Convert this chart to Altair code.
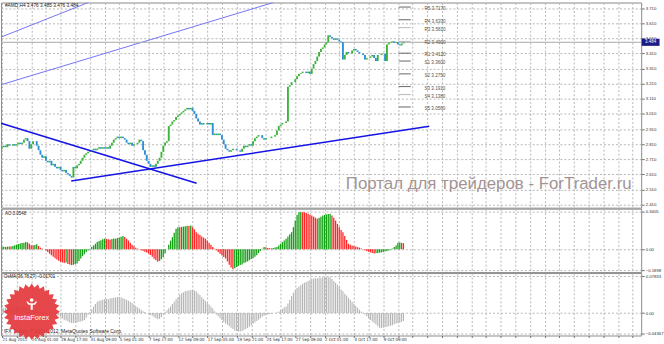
import json
import altair as alt
import numpy as np
import pandas as pd

# ---------------- data ----------------
closes = [
    2.79, 2.80, 2.79, 2.81, 2.80, 2.80, 2.81, 2.80, 2.81, 2.82,
    2.81, 2.82, 2.84, 2.85, 2.83, 2.78, 2.81, 2.83, 2.83, 2.80,
    2.77, 2.74, 2.72, 2.73, 2.70, 2.69, 2.70, 2.67, 2.68, 2.66,
    2.65, 2.66, 2.64, 2.63, 2.64, 2.62, 2.61, 2.60, 2.59, 2.66,
    2.65, 2.67, 2.68, 2.70, 2.72, 2.74, 2.75, 2.76, 2.77, 2.77,
    2.78, 2.77, 2.78, 2.79, 2.78, 2.79, 2.78, 2.79, 2.78, 2.80,
    2.82, 2.84, 2.85, 2.86, 2.85, 2.86, 2.85, 2.84, 2.82, 2.81,
    2.82, 2.80, 2.81, 2.81, 2.82, 2.84, 2.83, 2.77, 2.74, 2.70,
    2.68, 2.66, 2.67, 2.66, 2.68, 2.70, 2.72, 2.76, 2.80, 2.82,
    2.83, 2.93, 2.94, 2.96, 2.97, 2.99, 3.00, 3.01, 3.02, 3.03,
    3.04, 3.05, 3.04, 3.05, 3.03, 3.01, 2.98, 2.96, 2.94, 2.95,
    2.94, 2.94, 2.95, 2.94, 2.95, 2.87, 2.88, 2.87, 2.88, 2.87,
    2.84, 2.81, 2.78, 2.77, 2.76, 2.77, 2.78, 2.78, 2.77, 2.77,
    2.76, 2.78, 2.80, 2.79, 2.80, 2.81, 2.80, 2.83, 2.85, 2.86,
    2.87, 2.87, 2.85, 2.84, 2.85, 2.85, 2.85, 2.86, 2.86, 2.87,
    2.90, 2.93, 2.94, 2.95, 2.95, 2.96, 3.19, 3.20, 3.22, 3.22,
    3.24, 3.26, 3.275, 3.28, 3.29, 3.29, 3.28, 3.29, 3.275, 3.31,
    3.34, 3.36, 3.39, 3.42, 3.44, 3.45, 3.47, 3.485, 3.53, 3.52,
    3.51, 3.50, 3.51, 3.50, 3.49, 3.485, 3.37, 3.40, 3.42, 3.41,
    3.41, 3.43, 3.44, 3.43, 3.42, 3.41, 3.41, 3.40, 3.37, 3.38,
    3.38, 3.39, 3.40, 3.38, 3.36, 3.40, 3.40, 3.41, 3.41, 3.36,
    3.47, 3.48, 3.485, 3.49, 3.48, 3.485, 3.47, 3.463, 3.476, 3.484,
]

ao_values = [
    0.020, 0.022, 0.021, 0.024, 0.026, 0.025, 0.030, 0.036, 0.042, 0.048,
    0.052, 0.056, 0.060, 0.066, 0.062, 0.050, 0.036, 0.034, 0.038, 0.045,
    0.030, 0.015, 0.005, 0.000, -0.012, -0.025, -0.040, -0.054, -0.068, -0.080,
    -0.092, -0.104, -0.113, -0.118, -0.125, -0.120, -0.132, -0.138, -0.143, -0.140,
    -0.135, -0.128, -0.105, -0.084, -0.062, -0.045, -0.024, -0.010, 0.005, 0.020,
    0.035, 0.050, 0.066, 0.075, 0.082, 0.090, 0.096, 0.094, 0.090, 0.087,
    0.092, 0.098, 0.096, 0.102, 0.105, 0.113, 0.120, 0.110, 0.095, 0.080,
    0.060, 0.042, 0.027, 0.015, 0.006, -0.002, -0.009, -0.015, -0.022, -0.030,
    -0.039, -0.052, -0.068, -0.085, -0.100, -0.113, -0.105, -0.090, -0.069, -0.035,
    0.000, 0.040, 0.078, 0.110, 0.150, 0.185, 0.200, 0.198, 0.202, 0.205,
    0.208, 0.212, 0.210, 0.215, 0.200, 0.180, 0.155, 0.140, 0.128, 0.115,
    0.105, 0.096, 0.080, 0.060, 0.040, 0.020, 0.005, -0.009, -0.025, -0.040,
    -0.055, -0.070, -0.084, -0.110, -0.140, -0.165, -0.180, -0.172, -0.160, -0.150,
    -0.143, -0.138, -0.125, -0.118, -0.110, -0.099, -0.088, -0.080, -0.068, -0.054,
    -0.035, -0.015, 0.005, 0.020, 0.018, 0.012, 0.010, 0.008, 0.012, 0.016,
    0.020, 0.035, 0.050, 0.065, 0.080, 0.096, 0.115, 0.135, 0.155, 0.200,
    0.260, 0.310, 0.334, 0.336, 0.335, 0.334, 0.328, 0.320, 0.312, 0.305,
    0.295, 0.285, 0.275, 0.285, 0.295, 0.305, 0.310, 0.315, 0.318, 0.320,
    0.305, 0.285, 0.260, 0.230, 0.200, 0.175, 0.155, 0.120, 0.085, 0.050,
    0.040, 0.035, 0.030, 0.025, 0.020, 0.015, 0.008, 0.000, -0.008, -0.015,
    -0.022, -0.028, -0.034, -0.039, -0.036, -0.034, -0.031, -0.028, -0.024, -0.020,
    -0.015, -0.010, -0.004, 0.006, 0.020, 0.035, 0.060, 0.062, 0.058, 0.0548,
]

osma_values = [
    0.010, 0.010, 0.011, 0.011, 0.012, 0.012, 0.012, 0.013, 0.013, 0.013,
    0.012, 0.012, 0.012, 0.012, 0.011, 0.010, 0.009, 0.008, 0.007, 0.006,
    0.004, 0.003, 0.002, 0.001, 0.000, -0.001, -0.002, -0.002, -0.003, -0.004,
    -0.005, -0.005, -0.008, -0.011, -0.014, -0.016, -0.018, -0.020, -0.021, -0.021,
    -0.021, -0.020, -0.019, -0.018, -0.017, -0.015, -0.010, -0.004, 0.002, 0.008,
    0.014, 0.019, 0.024, 0.026, 0.027, 0.028, 0.029, 0.030, 0.030, 0.031,
    0.032, 0.033, 0.033, 0.034, 0.034, 0.033, 0.032, 0.030, 0.028, 0.026,
    0.024, 0.021, 0.018, 0.015, 0.012, 0.009, 0.007, 0.004, 0.002, 0.000,
    -0.002, -0.004, -0.006, -0.009, -0.011, -0.013, -0.012, -0.009, -0.004, 0.001,
    0.006, 0.010, 0.014, 0.019, 0.024, 0.029, 0.034, 0.039, 0.042, 0.044,
    0.046, 0.047, 0.048, 0.049, 0.049, 0.048, 0.046, 0.042, 0.038, 0.034,
    0.030, 0.026, 0.022, 0.018, 0.014, 0.010, 0.004, -0.003, -0.007, -0.011,
    -0.015, -0.019, -0.022, -0.025, -0.028, -0.031, -0.034, -0.037, -0.038, -0.039,
    -0.039, -0.038, -0.036, -0.034, -0.032, -0.029, -0.026, -0.023, -0.020, -0.017,
    -0.014, -0.011, -0.008, -0.006, -0.004, -0.003, -0.002, -0.001, 0.000, 0.000,
    0.001, 0.003, 0.006, 0.009, 0.012, 0.014, 0.020, 0.028, 0.036, 0.043,
    0.049, 0.053, 0.056, 0.059, 0.062, 0.064, 0.066, 0.068, 0.070, 0.072,
    0.073, 0.074, 0.074, 0.075, 0.075, 0.076, 0.076, 0.076, 0.076, 0.076,
    0.072, 0.068, 0.064, 0.060, 0.055, 0.050, 0.046, 0.041, 0.037, 0.032,
    0.028, 0.024, 0.019, 0.015, 0.011, 0.007, 0.003, 0.000, -0.003, -0.007,
    -0.011, -0.015, -0.018, -0.021, -0.024, -0.028, -0.031, -0.032, -0.031, -0.030,
    -0.029, -0.028, -0.027, -0.026, -0.024, -0.022, -0.021, -0.020, -0.019, -0.017,
]

time_labels = [
    "21 Aug 2012", "24 Aug 01:00", "28 Aug 17:00", "31 Aug 09:00", "5 Sep 01:00",
    "7 Sep 17:00", "12 Sep 09:00", "17 Sep 05:00", "19 Sep 21:00", "24 Sep 17:00",
    "27 Sep 09:00", "2 Oct 01:00", "4 Oct 17:00", "9 Oct 09:00",
]
price_ticks = [2.41, 2.51, 2.61, 2.71, 2.81, 2.91, 3.01, 3.11, 3.21, 3.31,
               3.41, 3.51, 3.61, 3.71]
ao_ticks = [0.3405, 0.0, -0.1898]
osma_ticks = [0.07833, 0.0, -0.04367]

pivot_names = ["R5", "R4", "R3", "R2", "R1", "S1", "S2", "S3", "S4", "S5"]
pivot_values = [3.7170, 3.6330, 3.5810, 3.4900, 3.4120, 3.3600, 3.2750,
                3.1910, 3.1380, 3.0560]
pivot_tone = ["dark", "dark", "light", "light", "dark", "dark", "dark",
              "dark", "light", "dark"]

channel_ids = ["c1", "c1", "c2", "c2"]
channel_bar = [-0.5, 47.1, -0.5, 148.1]
channel_price = [3.518, 3.747, 3.203, 3.747]

trend_ids = ["down", "down", "up", "up"]
trend_bar = [-0.5, 106.2, 37.8, 233.1]
trend_price = [2.949, 2.552, 2.567, 2.928]

title_text = "#AMD,H4  3.476 3.485 3.476 3.484"
ao_text = "AO 0.0548"
osma_text = "OsMA(36,78,27) -0.01701"
copyright_text = "IFX Trader, © 2001-2012, MetaQuotes Software Corp."
watermark_text = "Портал для трейдеров - ForTrader.ru"
logo_text = "InstaForex"

# ---------------- tables ----------------
n = len(closes)
opens = [closes[0] - 0.01] + closes[:-1]
bars = pd.DataFrame({"i": list(range(n)), "open": opens, "close": closes,
                     "ao": ao_values, "osma": osma_values, "zero": 0.0})
bars["ao_up"] = [1] + [1 if ao_values[k] > ao_values[k - 1] else 0 for k in range(1, n)]

pivots = pd.DataFrame({"name": pivot_names, "value": pivot_values, "tone": pivot_tone})
pivots["x0"] = n - 3.5
pivots["x1"] = n + 3.0
pivots["lx"] = n + 10.5
pivots["label"] = [f"{a} {b:.4f}" for a, b in zip(pivot_names, pivot_values)]

channels = pd.DataFrame({"id": channel_ids, "bar": channel_bar, "price": channel_price})
trends = pd.DataFrame({"id": trend_ids, "bar": trend_bar, "price": trend_price})
last = pd.DataFrame({"price": [closes[-1]], "t": [f"{closes[-1]:.3f}"]})

# ---------------- styling ----------------
FONT = "Liberation Sans"
NARROW = "Liberation Sans Narrow, DejaVu Sans Condensed, Liberation Sans"
GRID = "#b6b6b6"
UP, DOWN = "#3cb43c", "#2d8fd6"
W = 646
X_DOM = [-0.5, W / 1.85 - 0.5]
grid_vals = list(range(0, 349, 8))


def xs():
    return alt.Scale(domain=X_DOM, nice=False, zero=False)


def x_grid_axis():
    return alt.Axis(values=grid_vals, labels=False, ticks=False, domain=False,
                    grid=True, gridDash=[2, 2], gridColor=GRID, gridOpacity=1,
                    title=None)


def y_axis(values, **kw):
    return alt.Axis(orient="right", values=values, labelFontSize=4.3, tickSize=3,
                    tickColor="#707070", labelColor="#303030", labelPadding=1,
                    domain=False, grid=True, gridDash=[2, 2], gridColor=GRID,
                    gridOpacity=1, title=None, labelFont=FONT, labelOverlap=False,
                    labelFlush=False, **kw)


y1 = alt.Scale(domain=[2.390, 3.747], nice=False, zero=False)
PX = lambda f: alt.X(f, scale=xs(), axis=x_grid_axis())
PY = lambda f: alt.Y(f, scale=y1, axis=y_axis(price_ticks, format=".3f"))

# ---------------- price panel ----------------
candles = alt.Chart(bars).mark_rule(strokeWidth=1.9).encode(
    x=PX("i:Q"), y=PY("open:Q"), y2="close:Q",
    color=alt.condition("datum.close >= datum.open", alt.value(UP), alt.value(DOWN)),
)
chan = alt.Chart(channels).mark_line(clip=True, color="#7474f4", strokeWidth=1).encode(
    x=PX("bar:Q"), y=PY("price:Q"), detail="id:N",
)
price_line = alt.Chart(last).mark_rule(color="#a8a8a8", strokeWidth=1).encode(y=PY("price:Q"))
trend = alt.Chart(trends).mark_line(clip=True, color="#1414e6", strokeWidth=1.6).encode(
    x=PX("bar:Q"), y=PY("price:Q"), detail="id:N",
)
piv = alt.Chart(pivots).mark_rule(strokeWidth=1).encode(
    x=PX("x0:Q"), x2="x1:Q", y=PY("value:Q"),
    color=alt.condition("datum.tone == 'light'", alt.value("#b8b8b8"), alt.value("#666666")),
)
piv_lbl = alt.Chart(pivots).mark_text(align="left", baseline="middle", dy=2, fontSize=4.6,
                                      font=FONT, color="#505050").encode(
    x=PX("lx:Q"), y=PY("value:Q"), text="label:N",
)
wm = alt.Chart(pd.DataFrame({"t": [watermark_text]})).mark_text(
    align="left", baseline="alphabetic", fontSize=17, font=FONT, color="#a39393"
).encode(x=alt.value(348), y=alt.value(188), text="t:N")
ttl = alt.Chart(pd.DataFrame({"t": [title_text]})).mark_text(
    align="left", baseline="middle", fontSize=4.8, font=FONT, color="#202020"
).encode(x=alt.value(4), y=alt.value(4), text="t:N")
box_path = "M -1 -0.4 L 1 -0.4 L 1 0.4 L -1 0.4 Z"
box = alt.Chart(last).mark_point(shape=box_path, size=324, filled=True, opacity=1,
                                 color="#1c1c86").encode(x=alt.value(655.5), y=PY("price:Q"))
box_t = alt.Chart(last).mark_text(fontSize=4.5, font=FONT, color="white", baseline="middle").encode(
    x=alt.value(655.5), y=PY("price:Q"), text="t:N"
)
p1 = alt.layer(chan, price_line, candles, trend, piv, piv_lbl, wm, ttl, box, box_t).properties(
    width=W, height=207)

# ---------------- AO panel ----------------
ao_rules = alt.Chart(bars).mark_rule(strokeWidth=1.3).encode(
    x=alt.X("i:Q", scale=xs(), axis=x_grid_axis()),
    y=alt.Y("ao:Q", scale=alt.Scale(domain=[-0.206, 0.367], nice=False, zero=False),
            axis=y_axis(ao_ticks, labelExpr="datum.value == 0 ? '0.00' : format(datum.value, '.4f')")),
    y2="zero:Q",
    color=alt.condition("datum.ao_up == 1", alt.value("#14a014"), alt.value("#ff2626")),
)
ao_lbl = alt.Chart(pd.DataFrame({"t": [ao_text]})).mark_text(
    align="left", baseline="middle", fontSize=4.5, font=FONT, color="#202020"
).encode(x=alt.value(4), y=alt.value(5), text="t:N")
p2 = alt.layer(ao_rules, ao_lbl).properties(width=W, height=64)

# ---------------- OsMA panel ----------------
lab_js = json.dumps(time_labels)
x_time_axis = alt.Axis(
    values=grid_vals,
    labelExpr=f"(datum.value % 16 == 0 && datum.value <= {16 * (len(time_labels) - 1)}) ? {lab_js}[datum.value / 16] : ''",
    grid=True, gridDash=[2, 2], gridColor=GRID, gridOpacity=1, ticks=True, tickSize=2,
    tickColor="#707070", domain=False, labelAlign="left", labelFontSize=4.4, labelPadding=0,
    labelColor="#303030", labelFont=NARROW, title=None, labelOverlap=False, labelFlush=False,
)
osma_rules = alt.Chart(bars).mark_rule(strokeWidth=1.1, color="#b4b4b4").encode(
    x=alt.X("i:Q", scale=xs(), axis=x_time_axis),
    y=alt.Y("osma:Q", scale=alt.Scale(domain=[-0.0477, 0.0847], nice=False, zero=False),
            axis=y_axis(osma_ticks, labelExpr="datum.value == 0 ? '0.00' : format(datum.value, '.5f')")),
    y2="zero:Q",
)
osma_lbl = alt.Chart(pd.DataFrame({"t": [osma_text]})).mark_text(
    align="left", baseline="middle", fontSize=4.5, font=FONT, color="#202020"
).encode(x=alt.value(3), y=alt.value(4), text="t:N")
copy_lbl = alt.Chart(pd.DataFrame({"t": [copyright_text]})).mark_text(
    align="left", baseline="middle", fontSize=5.0, font=FONT, color="#202020"
).encode(x=alt.value(3), y=alt.value(58), text="t:N")

spikes = 28
pts = []
for k in range(spikes * 2):
    ang = np.pi * k / spikes
    r = 1.0 if k % 2 == 0 else 0.86
    pts.append(f"{r * np.sin(ang):.3f},{-r * np.cos(ang):.3f}")
star_path = "M" + " L".join(pts) + " Z"
icon_path = ("M -0.3 -0.62 A 0.3 0.3 0 1 1 0.3 -0.62 A 0.3 0.3 0 1 1 -0.3 -0.62 Z "
             "M -0.9 -0.4 L -0.55 0.15 L -0.17 0.15 L -0.17 1 L 0.17 1 L 0.17 0.15 "
             "L 0.55 0.15 L 0.9 -0.4 L 0.65 -0.4 L 0.4 -0.1 L -0.4 -0.1 L -0.65 -0.4 Z")
logo_df = pd.DataFrame({"t": [logo_text]})
star = alt.Chart(logo_df).mark_point(shape=star_path, size=3249, filled=True,
                                     color="#e4393c", opacity=0.93).encode(
    x=alt.value(31), y=alt.value(39))
icon = alt.Chart(logo_df).mark_point(shape=icon_path, size=150, filled=True,
                                     color="white", opacity=1).encode(
    x=alt.value(31), y=alt.value(31))
logo_t = alt.Chart(logo_df).mark_text(fontSize=7.5, font=FONT, color="white",
                                      baseline="middle").encode(
    x=alt.value(31), y=alt.value(45), text="t:N")
p3 = alt.layer(osma_rules, osma_lbl, copy_lbl, star, icon, logo_t).properties(width=W, height=63)

chart = alt.vconcat(p1, p2, p3, spacing=1, bounds="flush").properties(
    padding=0, background="white"
).configure_view(stroke="#8a8a8a", strokeWidth=1)

chart.save("out.html", embed_options={"renderer": "svg", "actions": False})
